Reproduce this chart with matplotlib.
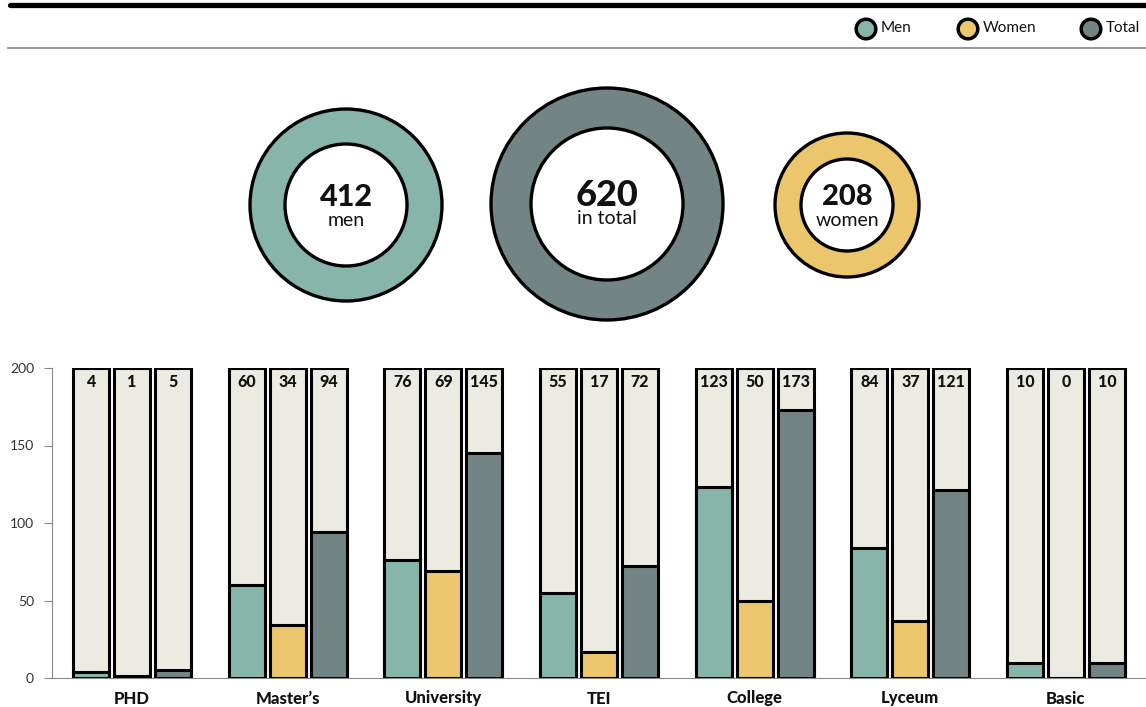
import numpy as np
import matplotlib.pyplot as plt
from matplotlib.patches import Circle

# ── data ──────────────────────────────────────────────────────────────────
categories = ['PHD', 'Master’s', 'University', 'TEI', 'College', 'Lyceum', 'Basic']
men   = [4, 60, 76, 55, 123, 84, 10]
women = [1, 34, 69, 17, 50, 37, 0]
total = [5, 94, 145, 72, 173, 121, 10]
series_names = ['Men', 'Women', 'Total']
y_ticks = [0, 50, 100, 150, 200]
y_max = 200

# ── style ─────────────────────────────────────────────────────────────────
C_MEN, C_WOMEN, C_TOTAL = '#87b5aa', '#ecc66c', '#728483'
C_BG = '#ecebe2'
colors = [C_MEN, C_WOMEN, C_TOTAL]
plt.rcParams['font.family'] = ['Lato', 'DejaVu Sans']

W, H = 1146, 707
fig = plt.figure(figsize=(W / 100, H / 100), dpi=100)

# overlay in pixel coordinates for rules, legend and donuts
top = fig.add_axes([0, 0, 1, 1])
top.set_xlim(0, W)
top.set_ylim(H, 0)
top.axis('off')

top.plot([10, W], [5, 5], color='black', lw=3.8, solid_capstyle='round')
top.plot([8, W], [48, 48], color='#7a7a7a', lw=1.1)

# legend
for name, c, cx in zip(series_names, colors, [866, 968, 1091]):
    top.add_patch(Circle((cx, 29), 9.8, facecolor=c, edgecolor='black', lw=2.5))
    top.text(cx + 15, 28.5, name, fontsize=11, va='center', ha='left', color='#111')

# donuts: value, caption, colour, centre, outer/inner radius, font sizes
donuts = [
    (sum(men), 'men', C_MEN, (346, 205), 96, 61, 22, 14),
    (sum(total), 'in total', C_TOTAL, (607, 204), 116, 76, 26, 14),
    (sum(women), 'women', C_WOMEN, (847, 205), 72, 46, 21, 14),
]
for val, lab, c, (cx, cy), r_out, r_in, fs_num, fs_lab in donuts:
    top.add_patch(Circle((cx, cy), r_out, facecolor=c, edgecolor='black', lw=2.4))
    top.add_patch(Circle((cx, cy), r_in, facecolor='white', edgecolor='black', lw=2.4))
    top.text(cx, cy - 8, f'{val}', fontsize=fs_num, fontweight='black',
             ha='center', va='center', color='#111')
    top.text(cx, cy + 15, lab, fontsize=fs_lab, ha='center', va='center', color='#111')

# ── grouped bars ──────────────────────────────────────────────────────────
ax = fig.add_axes([52 / W, (H - 678) / H, (W - 52) / W, 310 / H])
x = np.arange(len(categories))
bw = 0.231
step = 0.263
for k, (vals, c) in enumerate(zip([men, women, total], colors)):
    xs = x + (k - 1) * step
    ax.bar(xs, [y_max] * len(xs), width=bw, color=C_BG, edgecolor='black', lw=2.2, zorder=2)
    ax.bar(xs, vals, width=bw, color=c, edgecolor='black', lw=2.2, zorder=3)
    for xi, v in zip(xs, vals):
        ax.annotate(f'{v}', (xi, y_max), xytext=(0, -14), textcoords='offset pixels',
                    ha='center', va='center', fontsize=11.5, fontweight='black',
                    color='#111', zorder=4)

ax.set_xlim(-0.514, len(categories) - 1 + 0.514)
ax.set_ylim(0, y_max)
ax.set_yticks(y_ticks)
ax.set_xticks(x)
ax.set_xticklabels(categories, fontsize=12, fontweight='black', color='#111')
ax.tick_params(axis='x', length=0, pad=9)
ax.tick_params(axis='y', length=6, width=0.8, color='#888', pad=7,
               labelsize=10, labelcolor='#333')
for s in ['top', 'right']:
    ax.spines[s].set_visible(False)
for s in ['left', 'bottom']:
    ax.spines[s].set_color('#888')
    ax.spines[s].set_linewidth(0.8)
ax.patch.set_alpha(0)

fig.savefig('out.png', dpi=100)
